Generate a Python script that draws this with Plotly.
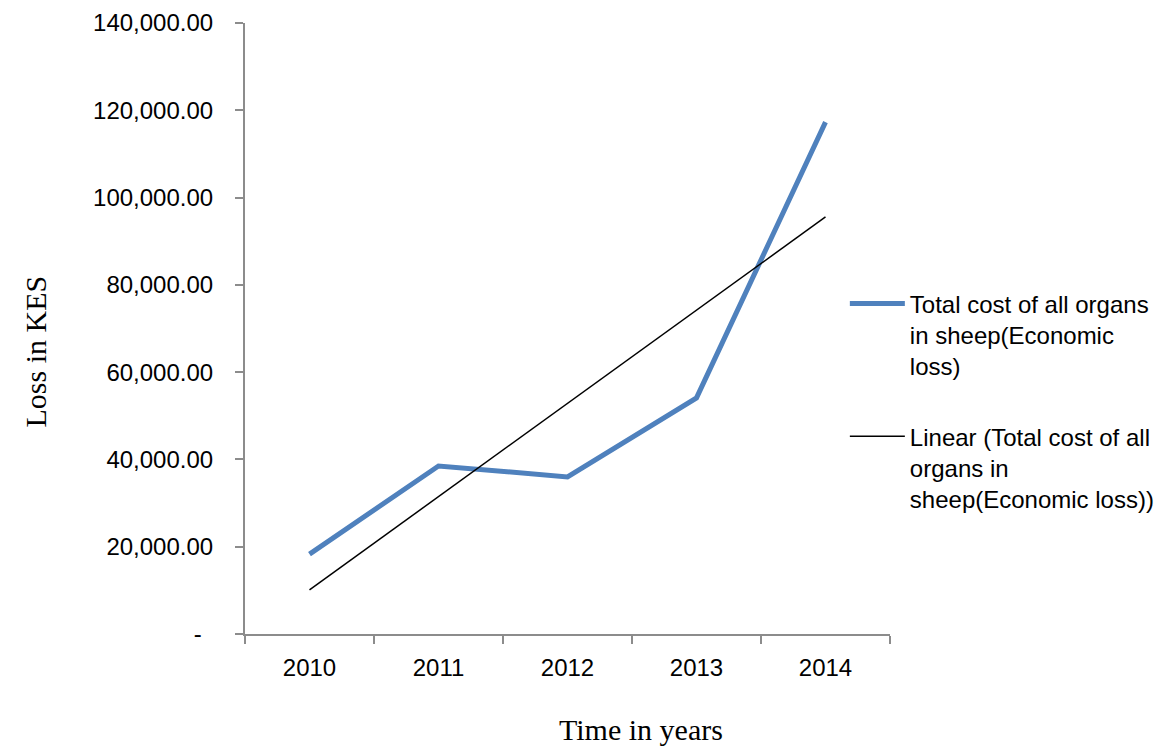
import numpy as np
import plotly.graph_objects as go

years = ["2010", "2011", "2012", "2013", "2014"]
loss = [18300, 38500, 36000, 54100, 117300]
y_tick_vals = [0, 20000, 40000, 60000, 80000, 100000, 120000, 140000]
y_tick_text = ["-\u00a0\u2009", "20,000.00", "40,000.00", "60,000.00", "80,000.00",
               "100,000.00", "120,000.00", "140,000.00"]

# Linear trendline (least squares, as Excel computes it)
xi = np.arange(len(years))
slope, intercept = np.polyfit(xi, loss, 1)
trend = (slope * xi + intercept).tolist()

blue = "#4F81BD"
axis_col = "#8C8C8C"
tick_font = dict(family="Liberation Sans, Arial, sans-serif", size=24, color="#000000")
title_font = dict(family="Liberation Serif, Times New Roman, serif", size=30, color="#000000")

fig = go.Figure()
fig.add_trace(go.Scatter(
    x=years, y=loss, mode="lines",
    line=dict(color=blue, width=5),
    name="Total cost of all organs<br>in sheep(Economic<br>loss)",
    legendgroup="a",
))
fig.add_trace(go.Scatter(
    x=years, y=trend, mode="lines",
    line=dict(color="#000000", width=1.5),
    name="Linear (Total cost of all<br>organs in<br>sheep(Economic loss))",
    legendgroup="b",
))

# page body has an 8px default margin, so the figure is shrunk by that amount
fig.update_layout(
    width=1163, height=738,
    margin=dict(l=237, r=281, t=15, b=112, autoexpand=False),
    paper_bgcolor="white", plot_bgcolor="white",
    font=tick_font,
    showlegend=True,
    legend=dict(
        x=0.930, xanchor="left", y=0.577, yanchor="top",
        font=dict(family="Liberation Sans, Arial, sans-serif", size=24, color="#000000"),
        tracegroupgap=36, valign="top", itemwidth=55,
        bgcolor="rgba(0,0,0,0)",
    ),
    xaxis=dict(
        type="category", range=[-0.5, 4.5], automargin=False,
        showline=True, linecolor=axis_col, linewidth=2,
        ticks="outside", ticklen=8, tickcolor=axis_col, tickwidth=2,
        tickson="boundaries", showgrid=False, zeroline=False,
        tickfont=tick_font, ticklabelstandoff=11,
    ),
    yaxis=dict(
        range=[0, 140000], automargin=False,
        tickvals=y_tick_vals, ticktext=y_tick_text,
        showline=True, linecolor=axis_col, linewidth=2,
        ticks="outside", ticklen=8, tickcolor=axis_col, tickwidth=2,
        showgrid=False, zeroline=False,
        tickfont=tick_font, ticklabelstandoff=17,
    ),
    annotations=[
        dict(text="Time in years", xref="paper", yref="paper",
             x=0.614, y=-0.156, xanchor="center", yanchor="middle",
             showarrow=False, font=title_font),
        dict(text="Loss in KES", xref="paper", yref="paper",
             x=-0.325, y=0.463, xanchor="center", yanchor="middle",
             textangle=-90, showarrow=False, font=title_font),
    ],
)

fig.write_html("out.html")
